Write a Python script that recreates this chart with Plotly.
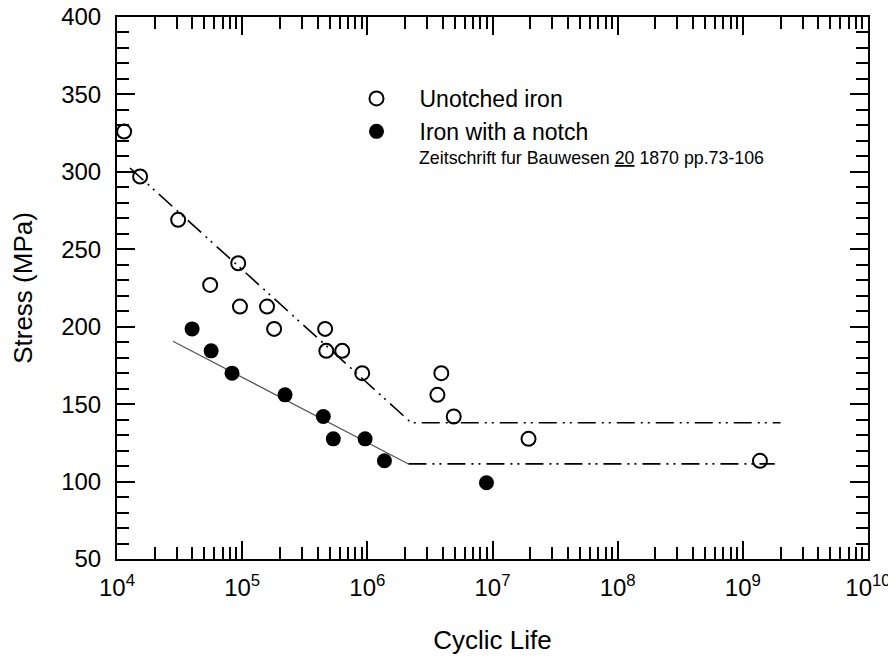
import plotly.graph_objects as go

# Data
unotched_life = [1.14e4, 1.53e4, 3.08e4, 5.55e4, 9.3e4, 9.6e4, 1.58e5, 1.8e5,
                 4.6e5, 4.7e5, 6.3e5, 9.1e5, 3.63e6, 3.9e6, 4.9e6, 1.94e7, 1.37e9]
unotched_stress = [326, 297, 269, 227, 241, 213, 213, 198.6,
                   198.6, 184.4, 184.4, 170, 156, 170, 142, 127.6, 113.4]

notched_life = [3.98e4, 5.65e4, 8.3e4, 2.2e5, 4.45e5, 5.35e5, 9.6e5, 1.37e6, 8.95e6]
notched_stress = [198.6, 184.4, 170, 156, 142, 127.6, 127.6, 113.4, 99.2]

# Fitted lines
unotched_fit_life = [1.27e4, 2.24e6, 2.0e9]
unotched_fit_stress = [302.5, 138, 138]

notched_slope_life = [2.8e4, 2.13e6]
notched_slope_stress = [190.6, 111.4]
notched_flat_life = [2.13e6, 1.8e9]
notched_flat_stress = [111.4, 111.4]

x_tickvals = [1e4, 1e5, 1e6, 1e7, 1e8, 1e9, 1e10]
x_ticktext = ["10<sup>4</sup>", "10<sup>5</sup>", "10<sup>6</sup>", "10<sup>7</sup>",
              "10<sup>8</sup>", "10<sup>9</sup>", "10<sup>10</sup>"]
y_tickvals = [50, 100, 150, 200, 250, 300, 350, 400]

FONT = "Liberation Sans, Arial, sans-serif"
DASHDOT2 = "18px,6px,2px,5px,2px,6px"

# page is rendered with an 8px body margin; compensate so the figure fits the window
OFF = 8
W, H = 896 - OFF, 657 - OFF
L, R, T, B = 117 - OFF, 28, 17 - OFF, 98
PW, PH = W - L - R, H - T - B


def px_to_paper_x(px):
    return (px - OFF - L) / PW


def px_to_paper_y(py):
    return 1 - (py - OFF - T) / PH


fig = go.Figure()

fig.add_trace(go.Scatter(x=unotched_fit_life, y=unotched_fit_stress, mode="lines",
                         line=dict(color="black", width=1.6, dash=DASHDOT2),
                         showlegend=False, hoverinfo="skip"))
fig.add_trace(go.Scatter(x=notched_slope_life, y=notched_slope_stress, mode="lines",
                         line=dict(color="#555555", width=1.2),
                         showlegend=False, hoverinfo="skip"))
fig.add_trace(go.Scatter(x=notched_flat_life, y=notched_flat_stress, mode="lines",
                         line=dict(color="black", width=1.6, dash=DASHDOT2),
                         showlegend=False, hoverinfo="skip"))

fig.add_trace(go.Scatter(x=unotched_life, y=unotched_stress, mode="markers",
                         name="Unotched iron", legendgroup="a",
                         marker=dict(symbol="circle-open", size=14, color="black",
                                     line=dict(width=2, color="black"))))
fig.add_trace(go.Scatter(x=notched_life, y=notched_stress, mode="markers",
                         name="Iron with a notch", legendgroup="b",
                         marker=dict(symbol="circle", size=15, color="black")))

fig.add_annotation(text="Zeitschrift fur Bauwesen <u>20</u> 1870 pp.73-106",
                   xref="paper", yref="paper", x=px_to_paper_x(417), y=px_to_paper_y(158),
                   xanchor="left", yanchor="middle", showarrow=False,
                   font=dict(family=FONT, size=17.8, color="black"))

axis_common = dict(showline=True, linewidth=2, linecolor="black", mirror="ticks",
                   ticks="inside", ticklen=18, tickwidth=2, tickcolor="black",
                   showgrid=False, zeroline=False, automargin=False,
                   ticklabeloverflow="allow",
                   tickfont=dict(family=FONT, size=24, color="black"))

fig.update_xaxes(type="log", range=[4, 10], tickmode="array",
                 tickvals=x_tickvals, ticktext=x_ticktext, ticklabelstandoff=6,
                 minor=dict(ticks="inside", ticklen=12, tickwidth=2, tickcolor="black",
                            dtick="D1", showgrid=False),
                 title=dict(text="Cyclic Life", font=dict(family=FONT, size=26, color="black"),
                            standoff=31),
                 **axis_common)
fig.update_yaxes(range=[50, 400], tickmode="array", tickvals=y_tickvals,
                 ticklabelstandoff=9,
                 minor=dict(ticks="inside", ticklen=12, tickwidth=2, tickcolor="black",
                            dtick=10, showgrid=False),
                 title=dict(text="Stress (MPa)", font=dict(family=FONT, size=26, color="black"),
                            standoff=22),
                 **axis_common)

fig.update_layout(width=W, height=H,
                  margin=dict(l=L, r=R, t=T, b=B, autoexpand=False),
                  plot_bgcolor="white", paper_bgcolor="white",
                  font=dict(family=FONT, color="black"),
                  legend=dict(x=px_to_paper_x(376 - 42.5), y=px_to_paper_y(77),
                              xanchor="left", yanchor="top", itemwidth=76,
                              bgcolor="rgba(0,0,0,0)", borderwidth=0,
                              font=dict(family=FONT, size=23, color="black"),
                              traceorder="grouped", tracegroupgap=0))

fig.write_html("out.html")
